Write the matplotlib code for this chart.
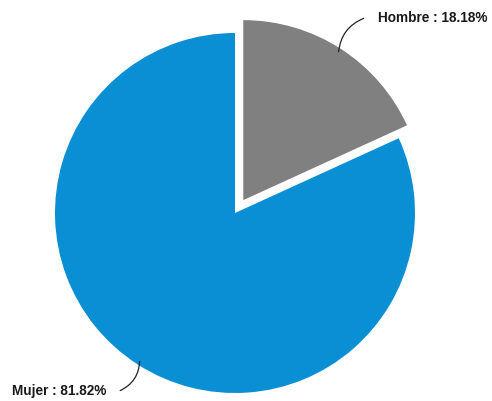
import numpy as np
import matplotlib
matplotlib.use("Agg")
import matplotlib.pyplot as plt

labels = ["Hombre", "Mujer"]
values = [18.18, 81.82]
colors = ["#808080", "#0a8fd5"]
explode = [0.085, 0.0]

# pixel layout of the reference (492x401), centre of pie and radius
W, H = 492, 401
cx, cy, R = 235, 213, 180


def main():
    fig = plt.figure(figsize=(W / 100, H / 100), dpi=100)
    ax = fig.add_axes([0, 0, 1, 1])

    wedges, _ = ax.pie(values, colors=colors, explode=explode, startangle=90,
                       counterclock=False, radius=1.0,
                       wedgeprops=dict(linewidth=0))
    # pie resets the limits, so set them afterwards
    ax.set_xlim(-cx / R, (W - cx) / R)
    ax.set_ylim(-(H - cy) / R, cy / R)
    ax.set_aspect("equal")
    ax.axis("off")

    # label placement: offsets (points) from slice edge to the leader end
    offsets = [(18, 24), (-14, -21)]
    for w, lab, val, off in zip(wedges, labels, values, offsets):
        ang = np.deg2rad((w.theta1 + w.theta2) / 2)
        ccx, ccy = w.center
        x0 = ccx + 0.98 * np.cos(ang)
        y0 = ccy + 0.98 * np.sin(ang)
        ax.annotate("", xy=(x0, y0), xytext=off, textcoords="offset points",
                    arrowprops=dict(arrowstyle="-", color="#222222", lw=0.9,
                                    shrinkA=0, shrinkB=0,
                                    connectionstyle="arc3,rad=0.3"))
        ha = "left" if off[0] > 0 else "right"
        dx = 10 if off[0] > 0 else -10
        ax.annotate(f"{lab} : {val:.2f}%", xy=(x0, y0),
                    xytext=(off[0] + dx, off[1]), textcoords="offset points",
                    ha=ha, va="center", fontsize=9.8, fontweight="bold",
                    family="Liberation Sans", color="#1a1a1a")

    fig.savefig("out.png", dpi=100)


if __name__ == '__main__':
    main()
